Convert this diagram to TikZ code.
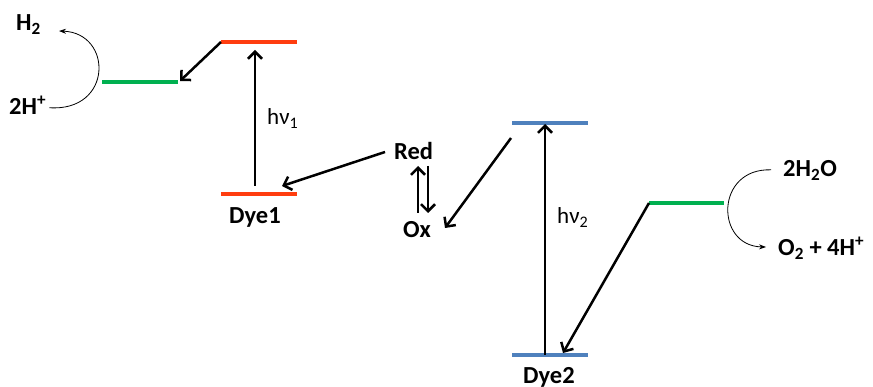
\documentclass[tikz,border=0pt]{standalone}
\usepackage{fontspec}
\setmainfont{Carlito}
\usetikzlibrary{arrows.meta}
\definecolor{lvred}{HTML}{FF3D0F}
\definecolor{lvgreen}{HTML}{00B050}
\definecolor{lvblue}{HTML}{4F81BD}
\tikzset{
  level/.style={line width=3.6pt},
  bigarrow/.style={line width=2.5pt,-{Straight Barb[length=7pt,width=14pt,line width=2.5pt]}},
  thinarrow/.style={line width=0.8pt,-{Stealth[length=7pt,width=5pt]}},
  lab/.style={font=\fontsize{24.5}{28}\selectfont\bfseries,inner sep=0pt,anchor=base west},
  hv/.style={font=\fontsize{23}{26}\selectfont,inner sep=0pt,anchor=base west}
}
\begin{document}
\begin{tikzpicture}[x=1pt,y=-1pt]
\useasboundingbox (0,0) rectangle (873,387);
% levels
\coordinate (d1eL) at (221,42); \coordinate (d1eR) at (297,42);
\coordinate (d1gL) at (221,194); \coordinate (d1gR) at (297,194);
\coordinate (cat1L) at (102,82); \coordinate (cat1R) at (178,82);
\coordinate (d2eL) at (512,123); \coordinate (d2eR) at (588,123);
\coordinate (d2gL) at (512,355); \coordinate (d2gR) at (588,355);
\coordinate (cat2L) at (649,203); \coordinate (cat2R) at (724,203);
\draw[level,lvred] (d1eL) -- (d1eR);
\draw[level,lvred] (d1gL) -- (d1gR);
\draw[level,lvgreen] (cat1L) -- (cat1R);
\draw[level,lvblue] (d2eL) -- (d2eR);
\draw[level,lvblue] (d2gL) -- (d2gR);
\draw[level,lvgreen] (cat2L) -- (cat2R);
% labels
\node[lab] (h2) at (16,31) {H\textsubscript{2}};
\node[lab] (hp) at (9,115) {2H\textsuperscript{+}};
\node[lab] (dye1) at (229,224) {Dye1};
\node[lab] (red) at (394,160) {Red};
\node[lab] (ox) at (403,238) {Ox};
\node[lab] (dye2) at (523,383) {Dye2};
\node[lab] (wat) at (783,177) {2H\textsubscript{2}O};
\node[lab] (oxy) at (778,256) {O\textsubscript{2} + 4H\textsuperscript{+}};
\node[hv] (hv1) at (267,125) {hν\textsubscript{1}};
\node[hv] (hv2) at (557,224) {hν\textsubscript{2}};
% arrow endpoints
\coordinate (a1s) at (255,186); \coordinate (a1e) at (255,50);
\coordinate (a2s) at (545,355); \coordinate (a2e) at (545,124);
\coordinate (r1s) at (385,152); \coordinate (r1e) at (282,186);
\coordinate (o1s) at (511,138); \coordinate (o1e) at (445,228);
\coordinate (c1e) at (180,81);
\coordinate (c2e) at (563,353);
\coordinate (eqUs) at (418,213); \coordinate (eqUe) at (418,166);
\coordinate (eqDs) at (428,166); \coordinate (eqDe) at (428,213);
\draw[bigarrow] (a1s) -- (a1e);
\draw[bigarrow] (a2s) -- (a2e);
\draw[bigarrow] (r1s) -- (r1e);
\draw[bigarrow] (o1s) -- (o1e);
\draw[bigarrow] (d1eL) -- (c1e);
\draw[bigarrow] (cat2L) -- (c2e);
\draw[bigarrow] (eqUs) -- (eqUe);
\draw[bigarrow] (eqDs) -- (eqDe);
% curved arrows
\draw[thinarrow] (hp.east) ++(3,2) coordinate (hpe) (hpe) .. controls (113,112) and (113,33) .. (59,31);
\draw[thinarrow] (wat.west) ++(-12,-1) coordinate (wate) (wate) .. controls (715,168) and (715,246) .. (766,247);
\end{tikzpicture}
\end{document}
